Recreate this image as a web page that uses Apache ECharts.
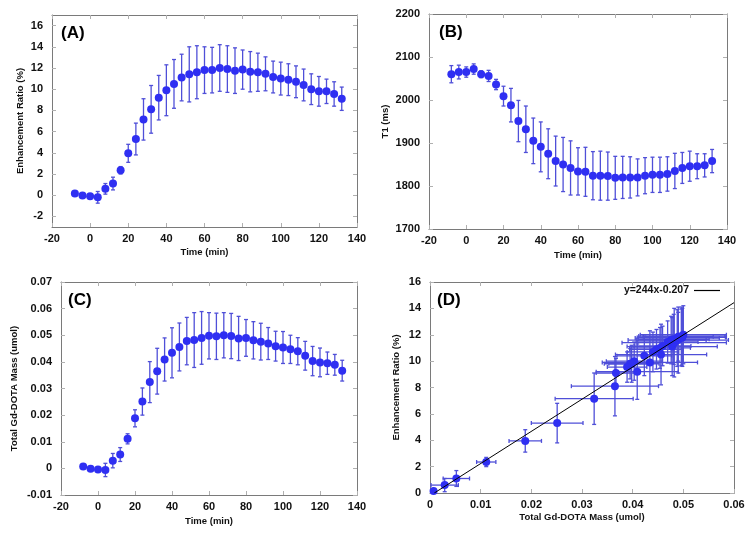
<!DOCTYPE html>
<html>
<head>
<meta charset="utf-8">
<script src="https://cdn.jsdelivr.net/npm/echarts@6/dist/echarts.min.js"></script>
<style>
html,body{margin:0;padding:0;background:#fff;}
#chart{width:754px;height:535px;}
</style>
</head>
<body>
<div id="chart"></div>
<script>
// ---- data ----
const timeMin = [-8,-4,0,4,8,12,16,20,24,28,32,36,40,44,48,52,56,60,64,68,72,76,80,84,88,92,96,100,104,108,112,116,120,124,128,132];
const enhRatio = [0.15,-0.03,-0.1,-0.2,0.6,1.1,2.35,3.95,5.3,7.15,8.1,9.2,9.9,10.5,11.1,11.4,11.6,11.8,11.8,12.0,11.9,11.75,11.85,11.65,11.6,11.45,11.15,11.0,10.9,10.7,10.4,10.0,9.8,9.8,9.55,9.1];
const enhErr = [0.15,0.1,0.1,0.55,0.5,0.6,0.35,0.85,1.5,1.95,2.25,2.1,2.4,2.3,2.2,2.6,2.5,2.2,2.15,2.2,2.2,2.15,1.85,1.9,1.8,1.6,1.5,1.55,1.5,1.5,1.5,1.45,1.4,1.15,1.15,1.1];
const t1 = [2060,2065,2065,2072,2060,2056,2036,2009,1988,1951,1932,1905,1891,1875,1858,1850,1842,1834,1833,1824,1824,1823,1819,1820,1820,1820,1824,1826,1826,1828,1835,1842,1846,1846,1848,1858];
const t1Err = [20,16,12,12,8,13,12,23,39,48,54,53,58,58,58,63,63,55,57,56,57,56,50,49,48,43,42,41,41,40,41,36,35,29,27,27];
const gdMass = [0.0007,-0.0001,-0.0004,-0.0006,0.0029,0.0052,0.0111,0.0188,0.0251,0.0324,0.0365,0.0409,0.0434,0.0456,0.0478,0.0482,0.0490,0.0498,0.0496,0.0500,0.0497,0.0488,0.0490,0.0481,0.0476,0.0469,0.0459,0.0454,0.0447,0.0440,0.0423,0.0403,0.0398,0.0395,0.0389,0.0367];
const gdErr = [0.0005,0.0004,0.0004,0.0025,0.0027,0.0026,0.0019,0.0032,0.0051,0.0077,0.0086,0.0081,0.0094,0.009,0.0089,0.0103,0.0099,0.0087,0.0087,0.0085,0.0085,0.0083,0.0069,0.007,0.0069,0.006,0.0056,0.006,0.0053,0.0051,0.0054,0.0055,0.0054,0.0042,0.0039,0.0039];
const fitSlope = 244, fitIntercept = -0.207;
const fitLabel = 'y=244x-0.207';
const ticksA = [-2,0,2,4,6,8,10,12,14,16];
const panelLabels = ['(A)','(B)','(C)','(D)'];

// ---- styles ----
const FONT = 'Liberation Sans, Arial, sans-serif';
const DOT = '#2f2ff2';
const BAR = '#4f4fd8';
const FRAME = '#7a7a7a';
const TICK = '#b0b0b0';
const fmt = v => String(Math.round(v * 1000) / 1000);

const grids = [
  {left: 52, top: 15, width: 305, height: 212},
  {left: 429, top: 14, width: 298, height: 215},
  {left: 61, top: 282, width: 296, height: 213},
  {left: 430, top: 282, width: 304, height: 211}
];

function axisBase(gi, pos, show) {
  return {
    gridIndex: gi, type: 'value', position: pos,
    axisLine: {show: true, onZero: false, lineStyle: {color: FRAME, width: 1}},
    axisTick: {show: true, inside: true, length: 4, lineStyle: {color: TICK}},
    splitLine: {show: false},
    axisLabel: show ? {show: true, fontFamily: FONT, fontWeight: 'bold', fontSize: 11, color: '#111', formatter: fmt} : {show: false},
    nameTextStyle: {fontFamily: FONT, fontWeight: 'bold', fontSize: 9.5, color: '#111'}
  };
}

const xAxes = [], yAxes = [];
const xCfg = [
  {min: -20, max: 140, interval: 20, name: 'Time (min)', gap: 20},
  {min: -20, max: 140, interval: 20, name: 'Time (min)', gap: 21},
  {min: -20, max: 140, interval: 20, name: 'Time (min)', gap: 21},
  {min: 0, max: 0.06, interval: 0.01, name: 'Total Gd-DOTA Mass (umol)', gap: 19}
];
const yCfg = [
  {min: -3, max: 17, custom: ticksA, name: 'Enhancement Ratio (%)', gap: 27},
  {min: 1700, max: 2200, interval: 100, name: 'T1 (ms)', gap: 39},
  {min: -0.01, max: 0.07, interval: 0.01, name: 'Total Gd-DOTA Mass (umol)', gap: 42},
  {min: 0, max: 16, interval: 2, name: 'Enhancement Ratio (%)', gap: 29}
];
for (let g = 0; g < 4; g++) {
  const xc = xCfg[g];
  const xb = Object.assign(axisBase(g, 'bottom', true), {min: xc.min, max: xc.max, interval: xc.interval, name: xc.name, nameLocation: 'middle', nameGap: xc.gap});
  xb.axisLabel.margin = 6;
  const xt = Object.assign(axisBase(g, 'top', false), {min: xc.min, max: xc.max, interval: xc.interval});
  xAxes.push(xb, xt);
  const yc = yCfg[g];
  const yl = Object.assign(axisBase(g, 'left', true), {min: yc.min, max: yc.max, name: yc.name, nameLocation: 'middle', nameGap: yc.gap});
  const yr = Object.assign(axisBase(g, 'right', false), {min: yc.min, max: yc.max});
  yl.axisLabel.margin = 9;
  if (yc.custom) {
    yl.axisTick.customValues = yc.custom; yl.axisLabel.customValues = yc.custom;
    yr.axisTick.customValues = yc.custom;
    yl.interval = 1; yr.interval = 1;
  } else {
    yl.interval = yc.interval; yr.interval = yc.interval;
  }
  yAxes.push(yl, yr);
}

function errData(xs, ys, xe, ye) {
  return xs.map((x, i) => [x, ys[i], xe ? xe[i] : 0, ye ? ye[i] : 0]);
}

function errSeries(g, data) {
  return {
    type: 'custom', xAxisIndex: 2 * g, yAxisIndex: 2 * g, z: 1, silent: true,
    clip: true,
    renderItem: function (params, api) {
      const x = api.value(0), y = api.value(1), ex = api.value(2), ey = api.value(3);
      const children = [];
      const cap = 2;
      const style = {stroke: BAR, lineWidth: 1.3};
      if (ey > 0) {
        const p1 = api.coord([x, y - ey]), p2 = api.coord([x, y + ey]);
        children.push({type: 'line', shape: {x1: p1[0], y1: p1[1], x2: p2[0], y2: p2[1]}, style});
        children.push({type: 'line', shape: {x1: p1[0] - cap, y1: p1[1], x2: p1[0] + cap, y2: p1[1]}, style});
        children.push({type: 'line', shape: {x1: p2[0] - cap, y1: p2[1], x2: p2[0] + cap, y2: p2[1]}, style});
      }
      if (ex > 0) {
        const p1 = api.coord([x - ex, y]), p2 = api.coord([x + ex, y]);
        children.push({type: 'line', shape: {x1: p1[0], y1: p1[1], x2: p2[0], y2: p2[1]}, style});
        children.push({type: 'line', shape: {x1: p1[0], y1: p1[1] - cap, x2: p1[0], y2: p1[1] + cap}, style});
        children.push({type: 'line', shape: {x1: p2[0], y1: p2[1] - cap, x2: p2[0], y2: p2[1] + cap}, style});
      }
      return {type: 'group', children};
    },
    data: data
  };
}
function dotSeries(g, xs, ys) {
  return {
    type: 'scatter', xAxisIndex: 2 * g, yAxisIndex: 2 * g, z: 3, symbolSize: 8,
    itemStyle: {color: DOT, opacity: 1},
    data: xs.map((x, i) => [x, ys[i]])
  };
}

const xFitStart = -fitIntercept / fitSlope;
const xFitEnd = xCfg[3].max;

const series = [
  errSeries(0, errData(timeMin, enhRatio, null, enhErr)),
  dotSeries(0, timeMin, enhRatio),
  errSeries(1, errData(timeMin, t1, null, t1Err)),
  dotSeries(1, timeMin, t1),
  errSeries(2, errData(timeMin, gdMass, null, gdErr)),
  dotSeries(2, timeMin, gdMass),
  errSeries(3, errData(gdMass, enhRatio, gdErr, enhErr)),
  dotSeries(3, gdMass, enhRatio),
  {
    type: 'line', name: fitLabel, xAxisIndex: 6, yAxisIndex: 6, z: 4,
    symbol: 'none', lineStyle: {color: '#000', width: 1},
    itemStyle: {color: '#000'},
    data: [[xFitStart, fitSlope * xFitStart + fitIntercept], [xFitEnd, fitSlope * xFitEnd + fitIntercept]]
  }
];

const titlePos = [[61, 25], [439, 24], [68, 292], [437, 292]];
const option = {
  animation: false,
  backgroundColor: '#fff',
  grid: grids.map(g => Object.assign({containLabel: false}, g)),
  xAxis: xAxes,
  yAxis: yAxes,
  title: panelLabels.map((t, i) => ({text: t, left: titlePos[i][0], top: titlePos[i][1], padding: 0,
    textStyle: {fontFamily: FONT, fontWeight: 'bold', fontSize: 17, color: '#000'}})),
  legend: {
    data: [{name: fitLabel, icon: 'rect'}], right: 34, top: 285, align: 'right', itemWidth: 26, itemHeight: 1.2, itemGap: 6,
    padding: 0,
    itemStyle: {color: '#000'},
    textStyle: {fontFamily: FONT, fontWeight: 'bold', fontSize: 10.5, color: '#111'}
  },
  series: series
};
const chart = echarts.init(document.getElementById('chart'), null, {renderer: 'canvas'});
chart.setOption(option);
</script>
</body>
</html>
